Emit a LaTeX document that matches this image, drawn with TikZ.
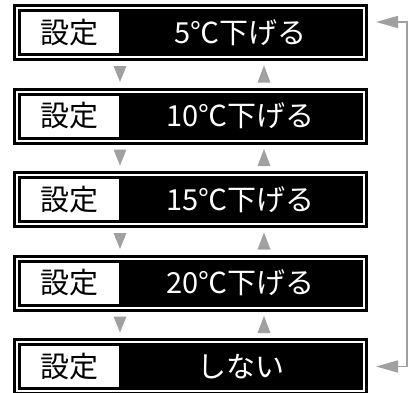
\documentclass[tikz,border=0pt]{standalone}
\usepackage{fontspec}
\setmainfont{Noto Sans CJK JP}
\usetikzlibrary{arrows.meta}
\definecolor{markgray}{RGB}{160,160,160}

\begin{document}
\begin{tikzpicture}[x=1pt, y=-1pt, >={Triangle[length=22pt, width=12pt]},
  outerbox/.style={draw, line width=3pt, minimum width=352pt, minimum height=54pt, inner sep=0pt},
  panel/.style={fill=black, minimum width=345pt, minimum height=47pt, inner sep=0pt},
  tag/.style={fill=white, minimum width=98pt, minimum height=41pt, inner sep=0pt, font=\fontsize{29}{29}\selectfont},
  valtext/.style={text=white, inner sep=0pt, font=\fontsize{29}{29}\selectfont}]
  \useasboundingbox (0,0) rectangle (408,392);

  % Riquadri
  \foreach \txt [count=\i] in {5℃下げる,10℃下げる,15℃下げる,20℃下げる,しない} {
    \pgfmathsetmacro{\yy}{32.5+(\i-1)*83.5}
    \node[outerbox] (f\i) at (190.5,\yy) {};
    \node[panel] (p\i) at (190.5,\yy) {};
    \node[tag] (t\i) at (70,\yy) {設定};
    \node[valtext] (v\i) at (240.5,\yy) {\txt};
  }

  % Triangoli
  \foreach \i in {1,...,4} {
    \pgfmathsetmacro{\ym}{74+(\i-1)*83.5}
    \fill[markgray] (113.5,{\ym-8}) -- (126.5,{\ym-8}) -- (120,{\ym+8}) -- cycle;
    \fill[markgray] (257.5,{\ym+8.5}) -- (270.5,{\ym+8.5}) -- (264,{\ym-8.5}) -- cycle;
  }

  % Ritorno
  \coordinate (a5) at ([xshift=8pt]f5.east);
  \coordinate (a1) at ([xshift=8pt, yshift=10.5pt]f1.east);
  \coordinate (r) at (407,22);
  \draw[markgray, line width=1.5pt, <->] (a5) -| (r) -- (a1);
\end{tikzpicture}
\end{document}
